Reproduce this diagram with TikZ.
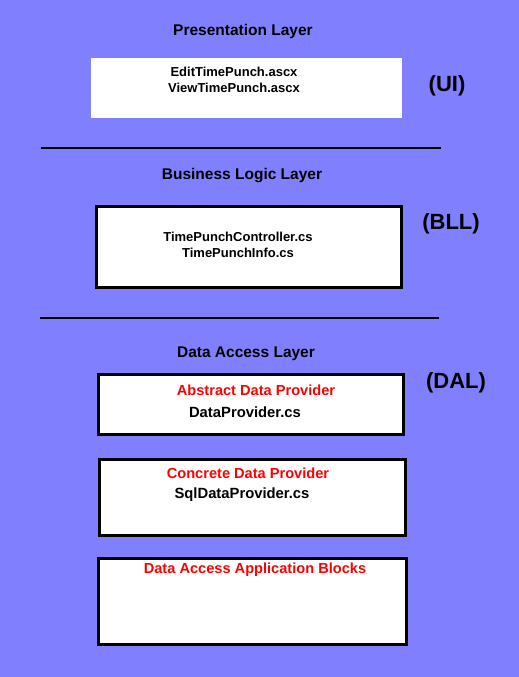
\documentclass[tikz,border=0pt]{standalone}
\usepackage{fontspec}
\setmainfont{Liberation Sans}
\usetikzlibrary{positioning}
\definecolor{layerblue}{RGB}{128,128,255}
\definecolor{provred}{RGB}{255,0,0}

\begin{document}
\begin{tikzpicture}[x=1pt, y=-1pt,
		every node/.style={inner sep=0pt, align=center},
		layer/.style={font=\fontsize{15.5}{18}\bfseries\selectfont},
		tag/.style={font=\fontsize{22}{26}\bfseries\selectfont},
		file/.style={font=\fontsize{13}{16}\bfseries\selectfont},
		dalfile/.style={font=\fontsize{14.8}{17}\bfseries\selectfont},
		provider/.style={font=\fontsize{14.6}{17}\bfseries\selectfont, text=provred},
		uibox/.style={fill=white, anchor=north west},
		filebox/.style={draw, line width=3pt, fill=white, anchor=north west},
		divider/.style={line width=2pt}]
	% background
	\fill[layerblue] (0,0) rectangle (519,677);
	% presentation layer
	\node[layer] (uititle) at (243,31) {Presentation Layer};
	\node[uibox, minimum width=311pt, minimum height=60pt] (uibox) at (91,58) {};
	\node[file] (uifiles) at (234,80) {EditTimePunch.ascx\\ViewTimePunch.ascx};
	\node[tag] (ui) at (447,86) {(UI)};
	\coordinate (d1l) at (41,148);
	\coordinate (d1r) at (441,148);
	\draw[divider] (d1l) -- (d1r);
	% business logic layer
	\node[layer] (blltitle) at (242,176) {Business Logic Layer};
	\node[filebox, minimum width=305pt, minimum height=81pt] (bllbox) at (95,205) {};
	\node[file] (bllfiles) at (238,245) {TimePunchController.cs\\TimePunchInfo.cs};
	\node[tag] (bll) at (451,224) {(BLL)};
	\coordinate (d2l) at (40,318);
	\coordinate (d2r) at (439,318);
	\draw[divider] (d2l) -- (d2r);
	% data access layer
	\node[layer] (daltitle) at (246,354) {Data Access Layer};
	\node[filebox, minimum width=305pt, minimum height=60pt] (absbox) at (97,373) {};
	\node[provider] (abs) at (256,390) {Abstract Data Provider};
	\node[dalfile] (absfile) at (245,412) {DataProvider.cs};
	\node[tag] (dal) at (456,383) {(DAL)};
	\node[filebox, minimum width=306pt, minimum height=76pt] (conbox) at (98,458) {};
	\node[provider] (con) at (248,473) {Concrete Data Provider};
	\node[dalfile] (confile) at (242,495) {SqlDataProvider.cs};
	\node[filebox, minimum width=308pt, minimum height=86pt] (daabbox) at (97,557) {};
	\node[provider] (daab) at (255,570) {Data Access Application Blocks};
\end{tikzpicture}
\end{document}
